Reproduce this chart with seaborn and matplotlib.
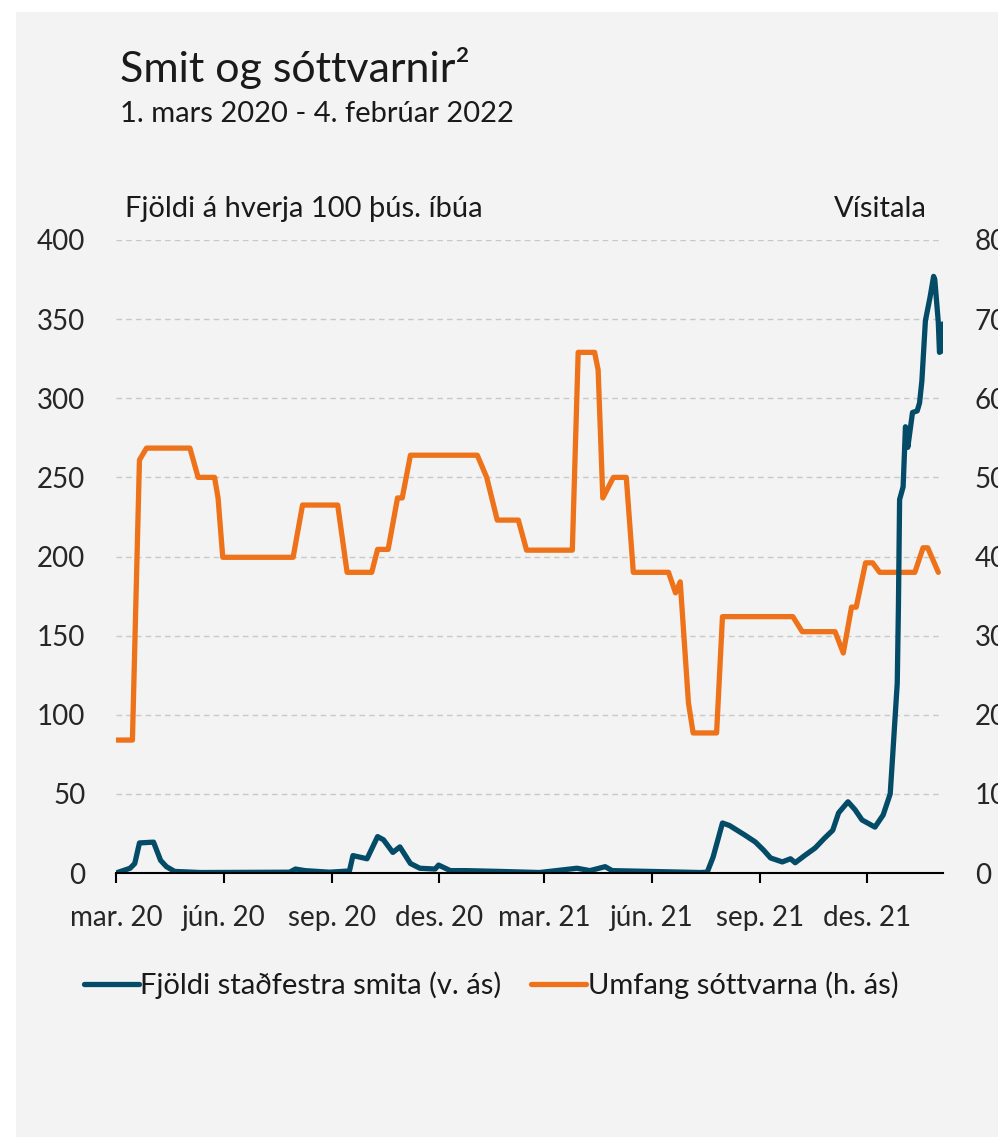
import pandas as pd
import matplotlib
matplotlib.use("Agg")
import matplotlib.pyplot as plt
from matplotlib.patches import Rectangle
import seaborn as sns

# Dagar frá 1. mars 2020 og gildi lesin af myndinni
smit_dagar = [0, 12, 16, 20, 32, 38, 43, 50, 72, 148, 153, 161, 182, 199, 202, 208,
              214, 223, 228, 236, 242, 251, 259, 272, 275, 285, 298, 327, 361, 393,
              404, 417, 423, 455, 498, 504, 509, 517, 523, 536, 545, 552, 558, 568,
              575, 579, 587, 596, 604, 611, 616, 624, 630, 636, 647, 654, 660, 662,
              666, 667, 668, 671, 673, 675, 679, 683, 685, 687, 690, 694, 697, 698,
              701, 702, 704, 705]
smit = [0, 3, 6, 19, 19.5, 8, 4, 1, 0.3, 0.5, 2.5, 1.5, 0.5, 1.3, 11, 10,
        9, 23, 21, 13, 16.5, 6, 3, 2.5, 5, 1.5, 1.5, 1, 0.3, 3,
        1.5, 4, 1.5, 1, 0.3, 0.5, 10, 31.6, 30, 24, 19.6, 14.5, 9.5, 7,
        9, 6.5, 11, 15.8, 22, 27, 38, 45, 40, 33.5, 29, 36.7, 50, 73,
        120, 168, 236, 244, 282, 269, 291, 292, 297, 311, 349, 364, 377, 375,
        348, 329, 330, 347]

sott_dagar = [0, 14, 20, 26, 63, 70, 84, 87, 91, 151, 159, 189, 197, 218, 223, 232,
              240, 244, 251, 308, 316, 325, 343, 350, 389, 394, 408, 411, 415, 424,
              435, 441, 471, 477, 481, 488, 492, 512, 517, 577, 585, 613, 620, 627,
              631, 639, 645, 651, 681, 688, 692, 701]
sottvarnir = [16.8, 16.8, 52.2, 53.7, 53.7, 50.0, 50.0, 47.4, 39.9, 39.9, 46.5, 46.5,
              38.0, 38.0, 40.9, 40.9, 47.4, 47.4, 52.8, 52.8, 50.0, 44.6, 44.6, 40.8,
              40.8, 65.8, 65.8, 63.6, 47.4, 50.0, 50.0, 38.0, 38.0, 35.4, 36.8, 21.5,
              17.7, 17.7, 32.4, 32.4, 30.5, 30.5, 27.8, 33.6, 33.6, 39.2, 39.2, 38.0,
              38.0, 41.1, 41.1, 38.0]

tick_dags = ["2020-03-01", "2020-06-01", "2020-09-01", "2020-12-01",
             "2021-03-01", "2021-06-01", "2021-09-01", "2021-12-01"]
tick_merki = ["mar. 20", "jún. 20", "sep. 20", "des. 20",
              "mar. 21", "jún. 21", "sep. 21", "des. 21"]

upphaf = pd.Timestamp("2020-03-01")
df_smit = pd.DataFrame({"dags": upphaf + pd.to_timedelta(smit_dagar, unit="D"), "gildi": smit})
df_sott = pd.DataFrame({"dags": upphaf + pd.to_timedelta(sott_dagar, unit="D"), "gildi": sottvarnir})

TEAL = "#044b67"
ORANGE = "#ee7219"
BG = "#f3f3f3"
FS = 20

sns.set_theme(style="white")
plt.rcParams["font.family"] = ["Lato", "DejaVu Sans"]
plt.rcParams["text.color"] = "#1a1a1a"

fig = plt.figure(figsize=(9.98, 11.38), dpi=100, facecolor="white")
fig.patches.append(Rectangle((16 / 998, 1 / 1138), 1, 1 - 13 / 1138, transform=fig.transFigure,
                             facecolor=BG, edgecolor="none", zorder=-10))

ax = fig.add_axes([116 / 998, 265 / 1138, 827 / 998, 633 / 1138])
ax2 = ax.twinx()
ax.set_facecolor("none")
ax2.set_facecolor("none")

# Appelsínugula línan (hægri ás) undir, blágræna ofan á
sns.lineplot(data=df_sott, x="dags", y="gildi", ax=ax2, color=ORANGE, linewidth=3.8,
             label="Umfang sóttvarna (h. ás)", legend=False)
sns.lineplot(data=df_smit, x="dags", y="gildi", ax=ax, color=TEAL, linewidth=3.8,
             label="Fjöldi staðfestra smita (v. ás)", legend=False)
ax.set_zorder(ax2.get_zorder() + 1)

ax.set_ylim(0, 400)
ax2.set_ylim(0, 80)
ax.set_yticks(range(0, 401, 50))
ax2.set_yticks(range(0, 81, 10))
ax.set_xlim(pd.Timestamp("2020-03-01"), pd.Timestamp("2022-02-04"))
ax.set_xticks(pd.to_datetime(tick_dags), labels=tick_merki)

# strikaðar hjálparlínur
for y in range(10, 81, 10):
    ax2.axhline(y, color="#c8c8c8", linewidth=1.0, linestyle=(0, (4, 3)), zorder=0)

ax.set_xlabel("")
ax.set_ylabel("")
ax2.set_ylabel("")
for a in (ax, ax2):
    for s in a.spines.values():
        s.set_visible(False)
ax.spines["bottom"].set_visible(True)
ax.spines["bottom"].set_color("black")
ax.spines["bottom"].set_linewidth(1.5)

ax.tick_params(axis="x", direction="out", length=7, width=1.5, color="black",
               labelsize=FS, pad=16, bottom=True)
ax.tick_params(axis="y", length=0, labelsize=FS, pad=22)
ax2.tick_params(axis="y", length=0, labelsize=FS, pad=23)

fig.text(120 / 998, 1 - 82 / 1138, "Smit og sóttvarnir²", fontsize=31, va="baseline")
fig.text(120 / 998, 1 - 122 / 1138, "1. mars 2020 - 4. febrúar 2022", fontsize=FS + 1, va="baseline")
fig.text(125 / 998, 1 - 217 / 1138, "Fjöldi á hverja 100 þús. íbúa", fontsize=FS + 1, va="baseline")
fig.text(927 / 998, 1 - 217 / 1138, "Vísitala", fontsize=FS + 1, va="baseline", ha="right")

h1, l1 = ax.get_legend_handles_labels()
h2, l2 = ax2.get_legend_handles_labels()
fig.legend(h1 + h2, l1 + l2, loc="center", bbox_to_anchor=(491 / 998, 1 - 985 / 1138),
           ncol=2, frameon=False, fontsize=FS + 1, handlelength=1.9, handletextpad=0.05,
           columnspacing=1.0)

fig.savefig("out.png", dpi=100, facecolor=fig.get_facecolor())
